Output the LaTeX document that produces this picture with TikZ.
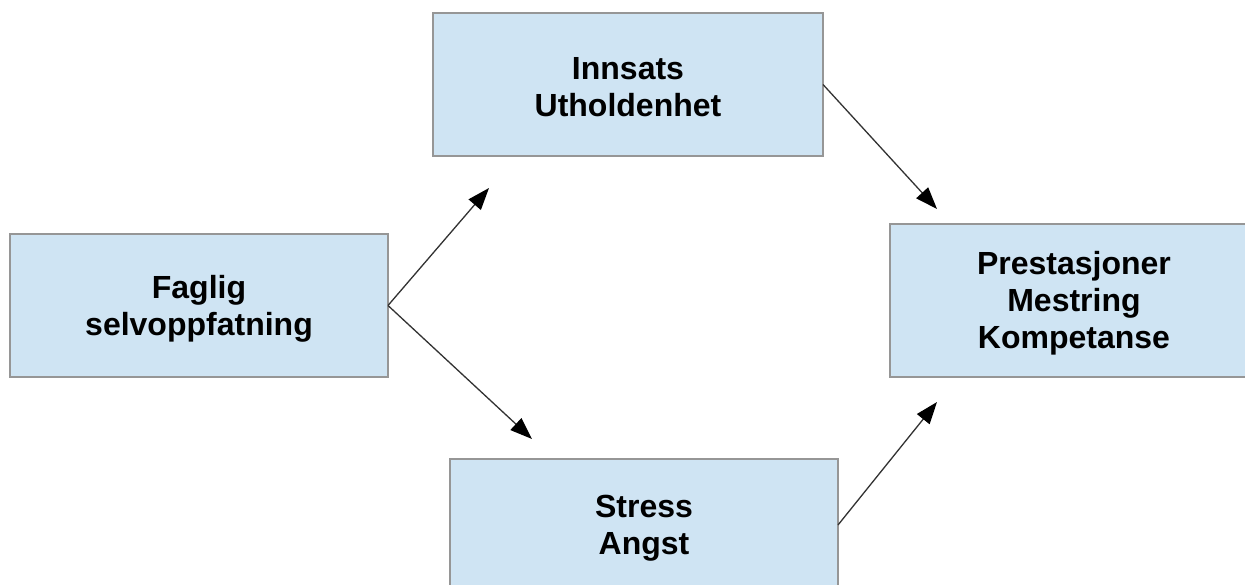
\documentclass[tikz,border=0pt]{standalone}
\usepackage{fontspec}
\setmainfont{Liberation Sans}
\usetikzlibrary{arrows.meta}
\definecolor{boxfill}{RGB}{207,228,243}
\definecolor{boxline}{RGB}{150,150,150}
\definecolor{linkline}{RGB}{50,50,50}
\begin{document}
\begin{tikzpicture}[x=1pt,y=-1pt,
  conceptbox/.style={draw=boxline,line width=1.6pt,fill=boxfill,
    inner sep=0pt,outer sep=0pt},
  boxtext/.style={font=\fontsize{32}{37}\selectfont\bfseries,
    align=center,inner sep=0pt},
  link/.style={draw=linkline,line width=1.3pt,
    -{Triangle[length=22pt,width=16pt,fill=black,color=black]}}]
\useasboundingbox (0,0) rectangle (1245,585);
\clip (0,0) rectangle (1245,585);
\fill[white] (0,0) rectangle (1245,585);

% concept boxes
\node[conceptbox,minimum width=378pt,minimum height=143pt]
  (self) at (199,305.5) {};
\node[conceptbox,minimum width=390pt,minimum height=143pt]
  (effort) at (628,84.5) {};
\node[conceptbox,minimum width=388pt,minimum height=132pt]
  (stress) at (644,525) {};
\node[conceptbox,minimum width=368pt,minimum height=153pt]
  (result) at (1074,300.5) {};

% box labels, set a little below the box centres
\node[boxtext] (selfText) at ([yshift=-3pt]self.center) {Faglig\\selvoppfatning};
\node[boxtext] (effortText) at ([yshift=-3pt]effort.center) {Innsats\\Utholdenhet};
\node[boxtext] (stressText) at ([yshift=-3pt]stress.center) {Stress\\Angst};
\node[boxtext] (resultText) at ([yshift=-3pt]result.center) {Prestasjoner\\Mestring\\Kompetanse};

% arrow end points
\coordinate (tipEffort) at (489,188);
\coordinate (tipStress) at (532,439);
\coordinate (tipResultA) at (937,209);
\coordinate (tipResultB) at (937,402);

% connectors
\draw[link] (self.east) -- (tipEffort);
\draw[link] (self.east) -- (tipStress);
\draw[link] (effort.east) -- (tipResultA);
\draw[link] (stress.east) -- (tipResultB);
\end{tikzpicture}
\end{document}
